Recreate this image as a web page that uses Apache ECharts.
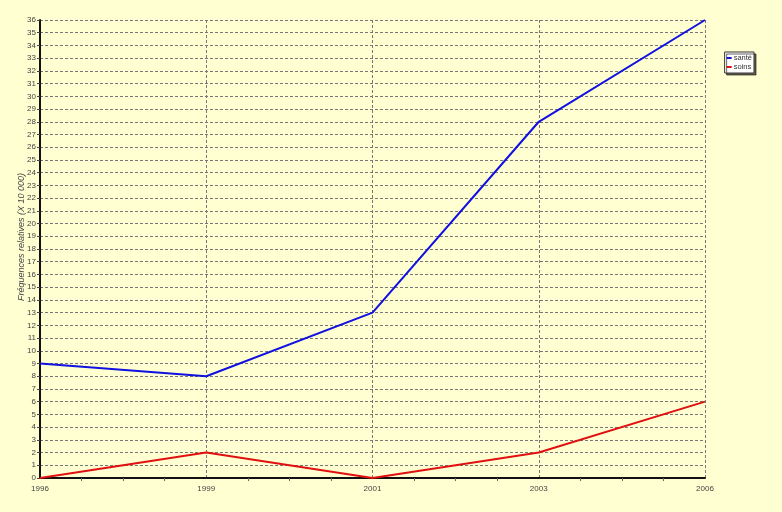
<!DOCTYPE html>
<html><head><meta charset="utf-8">
<script src="https://cdn.jsdelivr.net/npm/echarts@6/dist/echarts.min.js"></script>
<style>html,body{margin:0;padding:0;background:#FFFFD2;}#c{width:782px;height:512px;}</style>
</head><body><div id="c"></div>
<script>
const categories = ['1996','1999','2001','2003','2006'];
const sante = [9, 8, 13, 28, 36];
const soins = [0, 2, 0, 2, 6];
const yTicks = {min:0, max:36, interval:1};

const chart = echarts.init(document.getElementById('c'));
const lbl = {fontFamily:'Arial', fontSize:8, color:'#444'};
chart.setOption({
  backgroundColor:'#FFFFD2',
  animation:false,
  grid:{left:40, right:77, top:20, bottom:34},
  legend:{
    orient:'vertical', right:28, top:52,
    data:['santé','soins'],
    backgroundColor:'#fff', borderColor:'#333', borderWidth:1,
    shadowColor:'rgba(0,0,0,0.6)', shadowOffsetX:2, shadowOffsetY:2, shadowBlur:0,
    padding:[2,2,2,2], itemGap:1, itemWidth:5, itemHeight:2,
    textStyle:{fontFamily:'Arial', fontSize:7.5, color:'#333', padding:[0,0,0,-3]},
    icon:'rect'
  },
  xAxis:[{
    type:'category', data:categories, boundaryGap:false,
    axisLine:{lineStyle:{color:'#111', width:2}},
    axisTick:{show:false},
    axisLabel:Object.assign({margin:7, showMaxLabel:true, showMinLabel:true}, lbl),
    splitLine:{show:true, lineStyle:{type:[3,2], color:'#777', width:1}}
  },{
    type:'value', min:0, max:4, interval:1, position:'bottom',
    axisLine:{show:false}, axisLabel:{show:false},
    axisTick:{show:false},
    minorTick:{show:true, splitNumber:4, length:3, lineStyle:{color:'#666'}},
    splitLine:{show:false}
  }],
  yAxis:{
    type:'value', min:yTicks.min, max:yTicks.max, interval:yTicks.interval,
    name:'Fréquences relatives (X 10 000)', nameLocation:'middle', nameGap:14, nameMoveOverlap:false,
    nameTextStyle:{fontFamily:'Arial', fontSize:9, fontStyle:'italic', color:'#444', padding:[0,0,0,24]},
    axisLine:{show:true, lineStyle:{color:'#111', width:2}},
    axisTick:{show:true, length:3, lineStyle:{color:'#444'}},
    axisLabel:Object.assign({margin:4}, lbl),
    splitLine:{show:true, lineStyle:{type:[3,2], color:'#777', width:1}}
  },
  series:[
    {name:'santé', type:'line', data:sante, symbol:'none', lineStyle:{color:'#1010E0', width:2}, itemStyle:{color:'#1010E0'}},
    {name:'soins', type:'line', data:soins, symbol:'none', lineStyle:{color:'#E01010', width:2}, itemStyle:{color:'#E01010'}}
  ]
});
</script></body></html>
